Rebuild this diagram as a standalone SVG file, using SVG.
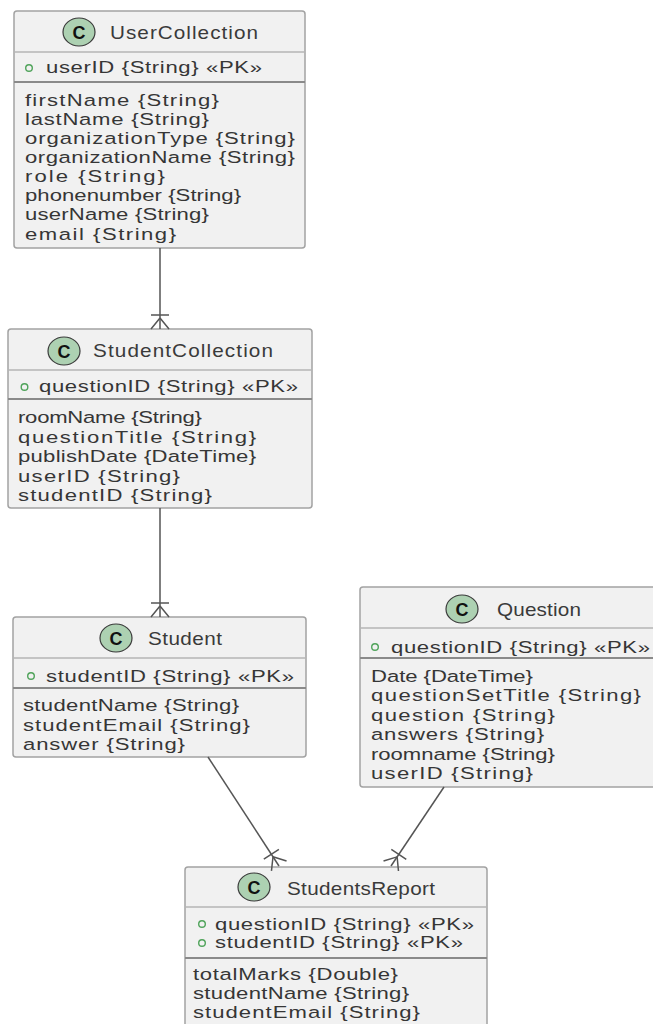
<svg xmlns="http://www.w3.org/2000/svg" width="653" height="1024" viewBox="0 0 653 1024">
<style>
.box{fill:#F1F1F1;stroke:#A2A2A2;stroke-width:1.5}
.sep1{stroke:#B4B4B4;stroke-width:1.5}
.sep2{stroke:#8A8A8A;stroke-width:2.2}
.cc{fill:#ADD1B2;stroke:#3A3A3A;stroke-width:1.2}
.cl{font-family:"Liberation Sans",Arial,sans-serif;font-size:18px;font-weight:bold;fill:#111;text-anchor:middle}
.title{font-family:"Liberation Sans",Arial,sans-serif;font-size:18px;fill:#3A3A3A}
.attr{font-family:"Liberation Sans",Arial,sans-serif;font-size:17px;fill:#363636}
.pk{fill:none;stroke:#4FA35A;stroke-width:1.4}
.conn{stroke:#555555;stroke-width:1.5;fill:none}
</style>
<defs>
<marker id="crow" markerUnits="userSpaceOnUse" orient="auto" refX="0" refY="0" markerWidth="30" markerHeight="30" viewBox="-20 -15 30 30" overflow="visible">
<path d="M-11,0 L0,-9 M-11,0 L0,9 M-14,-9 L-14,9" stroke="#555555" stroke-width="1.5" fill="none"/>
</marker>
</defs>

<g id="UserCollection">
<rect class="box" x="14" y="11" width="291" height="237" rx="3"/>
<line class="sep1" x1="14" y1="52" x2="305" y2="52"/>
<line class="sep2" x1="14" y1="82" x2="305" y2="82"/>
<ellipse class="cc" cx="79" cy="32" rx="16" ry="14"/>
<text class="cl" x="79" y="38.5">C</text>
<text class="title" transform="translate(110,39) scale(1.15,1)" textLength="128.7" lengthAdjust="spacing">UserCollection</text>
<circle class="pk" cx="29" cy="68" r="3.3"/>
<text class="attr" transform="translate(46,73) scale(1.3,1)" textLength="166.2" lengthAdjust="spacing">userID {String} «PK»</text>
<text class="attr" transform="translate(25,106) scale(1.3,1)" textLength="149.2" lengthAdjust="spacing">firstName {String}</text>
<text class="attr" transform="translate(25,125) scale(1.3,1)" textLength="141.5" lengthAdjust="spacing">lastName {String}</text>
<text class="attr" transform="translate(25,144) scale(1.3,1)" textLength="207.7" lengthAdjust="spacing">organizationType {String}</text>
<text class="attr" transform="translate(25,163) scale(1.3,1)" textLength="207.7" lengthAdjust="spacing">organizationName {String}</text>
<text class="attr" transform="translate(25,182) scale(1.3,1)" textLength="107.7" lengthAdjust="spacing">role {String}</text>
<text class="attr" transform="translate(25,201) scale(1.3,1)" textLength="166.2" lengthAdjust="spacing">phonenumber {String}</text>
<text class="attr" transform="translate(25,220) scale(1.3,1)" textLength="141.5" lengthAdjust="spacing">userName {String}</text>
<text class="attr" transform="translate(25,240) scale(1.3,1)" textLength="116.2" lengthAdjust="spacing">email {String}</text>
</g>

<g id="StudentCollection">
<rect class="box" x="8" y="329" width="304" height="179" rx="3"/>
<line class="sep1" x1="8" y1="370" x2="312" y2="370"/>
<line class="sep2" x1="8" y1="399" x2="312" y2="399"/>
<ellipse class="cc" cx="64" cy="351" rx="16" ry="14"/>
<text class="cl" x="64" y="357.5">C</text>
<text class="title" transform="translate(93,357) scale(1.15,1)" textLength="156.5" lengthAdjust="spacing">StudentCollection</text>
<circle class="pk" cx="24.5" cy="387" r="3.3"/>
<text class="attr" transform="translate(39,392) scale(1.3,1)" textLength="199.2" lengthAdjust="spacing">questionID {String} «PK»</text>
<text class="attr" transform="translate(18,423) scale(1.3,1)" textLength="141.5" lengthAdjust="spacing">roomName {String}</text>
<text class="attr" transform="translate(18,442.5) scale(1.3,1)" textLength="183.1" lengthAdjust="spacing">questionTitle {String}</text>
<text class="attr" transform="translate(18,462) scale(1.3,1)" textLength="183.1" lengthAdjust="spacing">publishDate {DateTime}</text>
<text class="attr" transform="translate(18,481.5) scale(1.3,1)" textLength="124.6" lengthAdjust="spacing">userID {String}</text>
<text class="attr" transform="translate(18,501) scale(1.3,1)" textLength="149.2" lengthAdjust="spacing">studentID {String}</text>
</g>

<g id="Student">
<rect class="box" x="13" y="617" width="293" height="140" rx="3"/>
<line class="sep1" x1="13" y1="658" x2="306" y2="658"/>
<line class="sep2" x1="13" y1="688" x2="306" y2="688"/>
<ellipse class="cc" cx="116" cy="638" rx="16" ry="14"/>
<text class="cl" x="116" y="644.5">C</text>
<text class="title" transform="translate(148,645) scale(1.15,1)" textLength="64.3" lengthAdjust="spacing">Student</text>
<circle class="pk" cx="31" cy="676" r="3.3"/>
<text class="attr" transform="translate(46,682) scale(1.3,1)" textLength="190.8" lengthAdjust="spacing">studentID {String} «PK»</text>
<text class="attr" transform="translate(23,711) scale(1.3,1)" textLength="166.2" lengthAdjust="spacing">studentName {String}</text>
<text class="attr" transform="translate(23,730.5) scale(1.3,1)" textLength="174.6" lengthAdjust="spacing">studentEmail {String}</text>
<text class="attr" transform="translate(23,750) scale(1.3,1)" textLength="124.6" lengthAdjust="spacing">answer {String}</text>
</g>

<g id="Question">
<rect class="box" x="360" y="587" width="300" height="200" rx="3"/>
<line class="sep1" x1="360" y1="628" x2="660" y2="628"/>
<line class="sep2" x1="360" y1="658" x2="660" y2="658"/>
<ellipse class="cc" cx="462" cy="609" rx="16" ry="14"/>
<text class="cl" x="462" y="615.5">C</text>
<text class="title" transform="translate(497,616) scale(1.15,1)" textLength="73" lengthAdjust="spacing">Question</text>
<circle class="pk" cx="375" cy="647" r="3.3"/>
<text class="attr" transform="translate(391,653) scale(1.3,1)" textLength="199.2" lengthAdjust="spacing">questionID {String} «PK»</text>
<text class="attr" transform="translate(371,682) scale(1.3,1)" textLength="124.6" lengthAdjust="spacing">Date {DateTime}</text>
<text class="attr" transform="translate(371,701) scale(1.3,1)" textLength="207.7" lengthAdjust="spacing">questionSetTitle {String}</text>
<text class="attr" transform="translate(371,720.5) scale(1.3,1)" textLength="141.5" lengthAdjust="spacing">question {String}</text>
<text class="attr" transform="translate(371,740) scale(1.3,1)" textLength="133.1" lengthAdjust="spacing">answers {String}</text>
<text class="attr" transform="translate(371,759.5) scale(1.3,1)" textLength="141.5" lengthAdjust="spacing">roomname {String}</text>
<text class="attr" transform="translate(371,779) scale(1.3,1)" textLength="124.6" lengthAdjust="spacing">userID {String}</text>
</g>

<g id="StudentsReport">
<rect class="box" x="185" y="867" width="302" height="175" rx="3"/>
<line class="sep1" x1="185" y1="907" x2="487" y2="907"/>
<line class="sep2" x1="185" y1="958" x2="487" y2="958"/>
<ellipse class="cc" cx="254" cy="887" rx="16" ry="14"/>
<text class="cl" x="254" y="893.5">C</text>
<text class="title" transform="translate(287,895) scale(1.15,1)" textLength="128.7" lengthAdjust="spacing">StudentsReport</text>
<circle class="pk" cx="202" cy="924" r="3.3"/>
<text class="attr" transform="translate(215,930) scale(1.3,1)" textLength="199.2" lengthAdjust="spacing">questionID {String} «PK»</text>
<circle class="pk" cx="202" cy="943" r="3.3"/>
<text class="attr" transform="translate(215,948) scale(1.3,1)" textLength="190.8" lengthAdjust="spacing">studentID {String} «PK»</text>
<text class="attr" transform="translate(193,980) scale(1.3,1)" textLength="157.7" lengthAdjust="spacing">totalMarks {Double}</text>
<text class="attr" transform="translate(193,999) scale(1.3,1)" textLength="166.2" lengthAdjust="spacing">studentName {String}</text>
<text class="attr" transform="translate(193,1018) scale(1.3,1)" textLength="174.6" lengthAdjust="spacing">studentEmail {String}</text>
</g>

<g id="connectors">
<path class="conn" d="M160,248 L160,329" marker-end="url(#crow)"/>
<path class="conn" d="M160,508 L160,617" marker-end="url(#crow)"/>
<path class="conn" d="M208,757 L279,866" marker-end="url(#crow)"/>
<path class="conn" d="M444,787 L391,866" marker-end="url(#crow)"/>
</g>
</svg>
